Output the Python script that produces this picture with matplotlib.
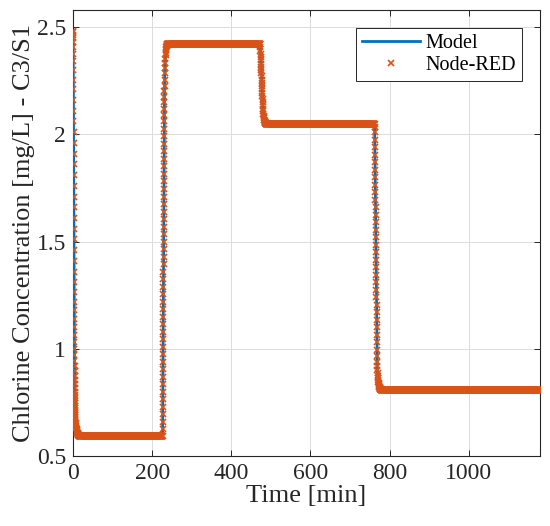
import numpy as np
import matplotlib
matplotlib.use("Agg")
import matplotlib.pyplot as plt

plt.rcParams['font.family'] = ['Liberation Serif', 'DejaVu Serif']
plt.rcParams['mathtext.fontset'] = 'stix'

# ---- data (time in min, chlorine in mg/L) ----
start_level = 2.48
plateau_levels = [0.595, 2.42, 2.05, 0.81]
t_end = 1180

# transition 1: drop starting at t=0
tr1_t0, tr1_dt = 0.0, 0.1
tr1_vals = [2.48, 2.475, 2.465, 2.45, 2.43, 2.405, 2.375, 2.34, 2.30, 2.255,
            2.21, 2.16, 2.11, 2.06, 2.01, 1.96, 1.91, 1.86, 1.81, 1.76,
            1.71, 1.66, 1.61, 1.56, 1.51, 1.46, 1.41, 1.36, 1.31, 1.265,
            1.22, 1.18, 1.14, 1.10, 1.065, 1.03, 1.0, 0.97, 0.945, 0.92,
            0.895, 0.875, 0.855, 0.835, 0.815, 0.80, 0.785, 0.77, 0.755, 0.745,
            0.735, 0.725, 0.715, 0.705, 0.695, 0.69, 0.68, 0.675, 0.67, 0.665]
tr1_tail_t0, tr1_tail_dt = 6.0, 0.5
tr1_tail = [0.66, 0.655, 0.648, 0.642, 0.636, 0.63, 0.625, 0.62, 0.616, 0.612,
            0.608, 0.605, 0.603, 0.601, 0.599, 0.598, 0.597, 0.596]

# transition 2: rise starting at t=226.5
tr2_t0, tr2_dt = 226.5, 0.1
tr2_vals = [0.595, 0.625, 0.66, 0.695, 0.73, 0.765, 0.80, 0.835, 0.87, 0.905,
            0.94, 0.975, 1.01, 1.045, 1.08, 1.115, 1.15, 1.185, 1.22, 1.255,
            1.29, 1.325, 1.36, 1.395, 1.43, 1.465, 1.50, 1.535, 1.57, 1.605,
            1.64, 1.675, 1.71, 1.745, 1.78, 1.815, 1.85, 1.885, 1.92, 1.955,
            1.99, 2.025, 2.06, 2.09, 2.12, 2.15, 2.175, 2.20, 2.225]
tr2_tail_t0, tr2_tail_dt = 231.5, 0.5
tr2_tail = [2.255, 2.285, 2.31, 2.333, 2.352, 2.368, 2.381, 2.391, 2.399, 2.405,
            2.41, 2.414, 2.417, 2.419]

# transition 3: drop starting at t=473
tr3_t0, tr3_dt = 473.0, 0.35
tr3_vals = [2.42, 2.405, 2.39, 2.375, 2.36, 2.345, 2.33, 2.315, 2.30, 2.285,
            2.27, 2.255, 2.24, 2.225, 2.21, 2.195, 2.18, 2.165, 2.15, 2.135, 2.12]
tr3_tail_t0, tr3_tail_dt = 480.5, 0.5
tr3_tail = [2.107, 2.096, 2.087, 2.08, 2.074, 2.069, 2.065, 2.062, 2.059, 2.057,
            2.055, 2.053, 2.052, 2.051]

# transition 4: drop starting at t=762
tr4_t0, tr4_dt = 762.0, 0.2
tr4_vals = [2.05, 2.035, 2.01, 1.975, 1.94, 1.905, 1.87, 1.835, 1.80, 1.765,
            1.73, 1.695, 1.66, 1.625, 1.59, 1.555, 1.52, 1.485, 1.45, 1.415,
            1.38, 1.345, 1.31, 1.275, 1.24, 1.205, 1.17, 1.135, 1.10, 1.065,
            1.03, 0.995, 0.965, 0.94, 0.92]
tr4_tail_t0, tr4_tail_dt = 769.0, 0.5
tr4_tail = [0.9, 0.885, 0.872, 0.862, 0.853, 0.846, 0.84, 0.835, 0.83, 0.826,
            0.823, 0.82, 0.818, 0.816, 0.814, 0.813, 0.812, 0.811]

plateau_dt = 0.5

# ---- assemble the series ----
def seg(t0, dt, vals):
    v = np.asarray(vals, float)
    return t0 + dt * np.arange(len(v)), v

pieces = []
transitions = [
    (tr1_t0, tr1_dt, tr1_vals, tr1_tail_t0, tr1_tail_dt, tr1_tail),
    (tr2_t0, tr2_dt, tr2_vals, tr2_tail_t0, tr2_tail_dt, tr2_tail),
    (tr3_t0, tr3_dt, tr3_vals, tr3_tail_t0, tr3_tail_dt, tr3_tail),
    (tr4_t0, tr4_dt, tr4_vals, tr4_tail_t0, tr4_tail_dt, tr4_tail),
]
next_starts = [tr2_t0, tr3_t0, tr4_t0, t_end + plateau_dt]
for (t0, dt, vals, tt0, tdt, tail), lvl, nxt in zip(transitions, plateau_levels, next_starts):
    pieces.append(seg(t0, dt, vals))
    pieces.append(seg(tt0, tdt, tail))
    p_start = tt0 + tdt * len(tail)
    pt = np.arange(p_start, nxt - 1e-9, plateau_dt)
    pieces.append((pt, np.full(len(pt), lvl)))

time = np.concatenate([p[0] for p in pieces])
conc = np.concatenate([p[1] for p in pieces])

# ---- plot ----
fig = plt.figure(figsize=(5.5, 5.26), dpi=100)
ax = fig.add_axes([0.1327, 0.1331, 0.8491, 0.848])

blue = '#0072BD'
orange = '#D95319'
ax.plot(time, conc, color=blue, lw=2.0, label='Model', zorder=3)
ax.plot(time, conc, ls='none', marker='x', ms=5.0, mew=1.2, color=orange,
        label='Node-RED', zorder=4)

ax.set_xlim(0, t_end)
ax.set_ylim(0.5, 2.58)
ax.set_xticks([0, 200, 400, 600, 800, 1000])
ax.set_yticks([0.5, 1, 1.5, 2, 2.5])
ax.set_yticklabels(['0.5', '1', '1.5', '2', '2.5'])
ax.tick_params(direction='in', top=True, right=True, labelsize=17,
               length=4, width=0.7, colors='#262626', pad=5)
ax.grid(True, color='#dcdcdc', lw=0.7)
ax.set_axisbelow(True)
for s in ax.spines.values():
    s.set_color('#262626')
    s.set_linewidth(0.8)

ax.set_xlabel('Time [min]', fontsize=19, color='#262626', labelpad=1)
ax.set_ylabel('Chlorine Concentration [mg/L] - C3/S1', fontsize=19,
              color='#262626', labelpad=1)

leg = ax.legend(loc='upper right', fontsize=14.5, frameon=True, fancybox=False,
                edgecolor='#262626', framealpha=1, borderpad=0.3,
                handlelength=2.9, handletextpad=0.25, labelspacing=0.15,
                borderaxespad=0.9)
leg.get_frame().set_linewidth(0.7)

fig.savefig('out.png', dpi=100)
